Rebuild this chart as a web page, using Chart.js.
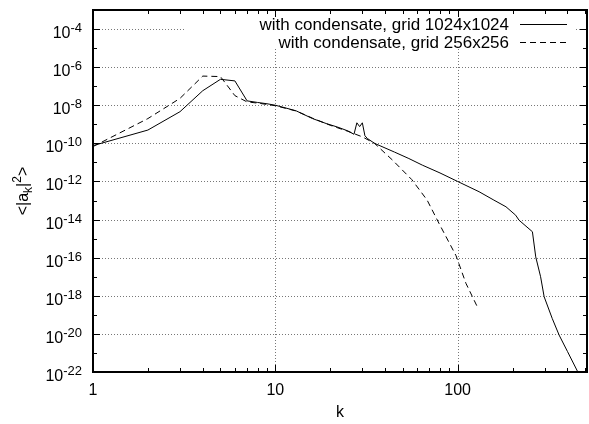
<!DOCTYPE html>
<html>
<head>
<meta charset="utf-8">
<script src="https://cdn.jsdelivr.net/npm/chart.js@4.4.1/dist/chart.umd.min.js"></script>
<style>
  body { margin: 0; background: #fff; }
  #wrap { width: 589px; height: 424px; position: relative; }
</style>
</head>
<body>
<div id="wrap"><canvas id="spectrum"></canvas></div>
<script>
// wavenumbers and spectrum values
const kFine = [1, 2, 3, 4, 5, 6, 7, 8, 9, 10, 11, 13, 16, 19, 22, 25, 27, 28, 29, 30, 31, 32, 35, 45, 54, 64, 80, 100, 131, 158, 184, 208, 217, 257, 268, 285, 298, 330, 360, 400, 460];
const specFine = [7.6e-11, 5.0e-10, 4.6e-9, 5.8e-8, 2.3e-7, 1.9e-7, 1.7e-8, 1.4e-8, 1.2e-8, 1.0e-8, 7.9e-9, 5.1e-9, 2.0e-9, 1.1e-9, 7.1e-10, 4.5e-10, 3.0e-10, 1.2e-9, 7.6e-10, 1.2e-9, 2.5e-10, 1.8e-10, 1.0e-10, 3.5e-11, 1.6e-11, 7.2e-12, 2.8e-12, 1.0e-12, 2.9e-13, 1.05e-13, 4.7e-14, 1.7e-14, 9.3e-15, 2.3e-15, 1.1e-16, 1.0e-17, 8.9e-19, 6.5e-20, 8.7e-21, 1.2e-21, 8.5e-23];

const kCoarse = [1, 2, 3, 4, 5, 6, 7, 8, 10, 13, 16, 20, 25, 30, 35, 44, 56, 68, 79, 98, 111, 128];
const specCoarse = [6.8e-11, 2.0e-9, 2.3e-8, 3.4e-7, 3.2e-7, 3.2e-8, 1.5e-8, 1.3e-8, 9.5e-9, 5.0e-9, 2.1e-9, 8.9e-10, 4.3e-10, 2.2e-10, 1.0e-10, 1.3e-11, 1.26e-12, 1.05e-13, 6.3e-15, 1.26e-16, 4.5e-18, 2.7e-19];

const seriesNames = ['with condensate, grid 1024x1024', 'with condensate, grid 256x256'];
const xTickValues = [1, 10, 100];
const yLabelExponents = [-22, -20, -18, -16, -14, -12, -10, -8, -6, -4];

const FONT = "'Liberation Sans', Arial, sans-serif";

function toPoints(ks, vals) {
    return ks.map((k, i) => ({ x: k, y: vals[i] }));
}

// gnuplot-like frame: dotted grid, inward ticks, legend box, superscript labels
const gnuplotFrame = {
    id: 'gnuplotFrame',
    beforeDatasetsDraw(chart) {
        const { ctx, chartArea: a, scales: { x, y } } = chart;
        ctx.save();
        ctx.strokeStyle = '#777';
        ctx.lineWidth = 1;
        ctx.setLineDash([1, 2]);
        yLabelExponents.forEach(e => {
            if (e === -22) return;
            const py = Math.round(y.getPixelForValue(Math.pow(10, e))) + 0.5;
            ctx.beginPath();
            ctx.moveTo(a.left, py);
            ctx.lineTo(a.right, py);
            ctx.stroke();
        });
        xTickValues.forEach(v => {
            if (v === 1) return;
            const px = Math.round(x.getPixelForValue(v)) + 0.5;
            ctx.beginPath();
            ctx.moveTo(px, a.top);
            ctx.lineTo(px, a.bottom);
            ctx.stroke();
        });
        ctx.setLineDash([]);
        // opaque key box
        ctx.fillStyle = '#fff';
        ctx.fillRect(185, a.top + 1, 390, 38);
        ctx.restore();
    },
    afterDatasetsDraw(chart) {
        const { ctx, chartArea: a, scales: { x, y } } = chart;
        ctx.save();
        ctx.strokeStyle = '#000';

        // ticks
        ctx.lineWidth = 1;
        for (let e = -21; e <= -4; e++) {
            const py = Math.round(y.getPixelForValue(Math.pow(10, e))) + 0.5;
            const len = e % 2 === 0 ? 7 : 4;
            ctx.beginPath();
            ctx.moveTo(a.left, py); ctx.lineTo(a.left + len, py);
            ctx.moveTo(a.right, py); ctx.lineTo(a.right - len, py);
            ctx.stroke();
        }
        for (let dec = 1; dec <= 100; dec *= 10) {
            for (let m = 1; m <= 9; m++) {
                const v = dec * m;
                if (v > 512 || v === 1) continue;
                const px = Math.round(x.getPixelForValue(v)) + 0.5;
                const len = m === 1 ? 7 : 4;
                ctx.beginPath();
                ctx.moveTo(px, a.bottom); ctx.lineTo(px, a.bottom - len);
                ctx.moveTo(px, a.top); ctx.lineTo(px, a.top + len);
                ctx.stroke();
            }
        }

        // border
        ctx.lineWidth = 2;
        ctx.strokeRect(a.left, a.top, a.right - a.left, a.bottom - a.top);

        // y tick labels 10^e
        ctx.fillStyle = '#000';
        ctx.textBaseline = 'alphabetic';
        ctx.textAlign = 'left';
        yLabelExponents.forEach(e => {
            const py = y.getPixelForValue(Math.pow(10, e));
            ctx.font = '13px ' + FONT;
            const expText = String(e);
            const ew = ctx.measureText(expText).width;
            ctx.font = '16px ' + FONT;
            const bw = ctx.measureText('10').width;
            const right = 82;
            ctx.fillText('10', right - ew - bw, py + 9);
            ctx.font = '13px ' + FONT;
            ctx.fillText(expText, right - ew, py + 3);
        });

        // y axis title <|a_k|^2>
        ctx.save();
        ctx.translate(28, (a.top + a.bottom) / 2);
        ctx.rotate(-Math.PI / 2);
        const parts = [
            { t: '<|a', size: 16, dy: 0 },
            { t: 'k', size: 12, dy: 4 },
            { t: '|', size: 16, dy: 0 },
            { t: '2', size: 12, dy: -7 },
            { t: '>', size: 16, dy: 0 }
        ];
        let total = 0;
        parts.forEach(p => {
            ctx.font = p.size + 'px ' + FONT;
            p.w = ctx.measureText(p.t).width;
            total += p.w;
        });
        let cx = -total / 2;
        parts.forEach(p => {
            ctx.font = p.size + 'px ' + FONT;
            ctx.fillText(p.t, cx, p.dy);
            cx += p.w;
        });
        ctx.restore();

        // key
        ctx.font = '17px ' + FONT;
        ctx.textAlign = 'right';
        ctx.textBaseline = 'middle';
        const rows = [24, 42];
        seriesNames.forEach((name, i) => {
            ctx.fillText(name, 509, rows[i] + 1);
            ctx.lineWidth = 1;
            ctx.setLineDash(i === 0 ? [] : [6, 4]);
            ctx.beginPath();
            ctx.moveTo(520, rows[i] + 0.5);
            ctx.lineTo(567, rows[i] + 0.5);
            ctx.stroke();
        });
        ctx.restore();
    }
};

const spectrumChart = new Chart(document.getElementById('spectrum').getContext('2d'), {
    type: 'line',
    data: {
        datasets: [
            {
                label: seriesNames[0],
                data: toPoints(kFine, specFine),
                borderColor: '#000',
                borderWidth: 1,
                pointRadius: 0,
                tension: 0,
                fill: false
            },
            {
                label: seriesNames[1],
                data: toPoints(kCoarse, specCoarse),
                borderColor: '#000',
                borderWidth: 1,
                borderDash: [6, 4],
                pointRadius: 0,
                tension: 0,
                fill: false
            }
        ]
    },
    options: {
        responsive: true,
        maintainAspectRatio: false,
        animation: false,
        events: [],
        layout: { padding: { top: 10, right: 2, left: 0, bottom: 0 } },
        plugins: {
            legend: { display: false },
            tooltip: { enabled: false }
        },
        scales: {
            x: {
                type: 'logarithmic',
                min: 1,
                max: 512,
                afterBuildTicks: scale => { scale.ticks = xTickValues.map(v => ({ value: v })); },
                afterFit: scale => { scale.height = 52; },
                grid: { display: false, drawTicks: false },
                border: { display: false },
                ticks: {
                    color: '#000',
                    padding: 9,
                    maxRotation: 0,
                    font: { family: FONT, size: 16 },
                    callback: v => String(v)
                },
                title: {
                    display: true,
                    text: 'k',
                    color: '#000',
                    font: { family: FONT, size: 16 },
                    padding: { top: 0, bottom: 2 }
                }
            },
            y: {
                type: 'logarithmic',
                min: 1e-22,
                max: 1e-3,
                afterFit: scale => { scale.width = 93; },
                grid: { display: false, drawTicks: false },
                border: { display: false },
                ticks: { display: false }
            }
        }
    },
    plugins: [gnuplotFrame]
});
</script>
</body>
</html>
